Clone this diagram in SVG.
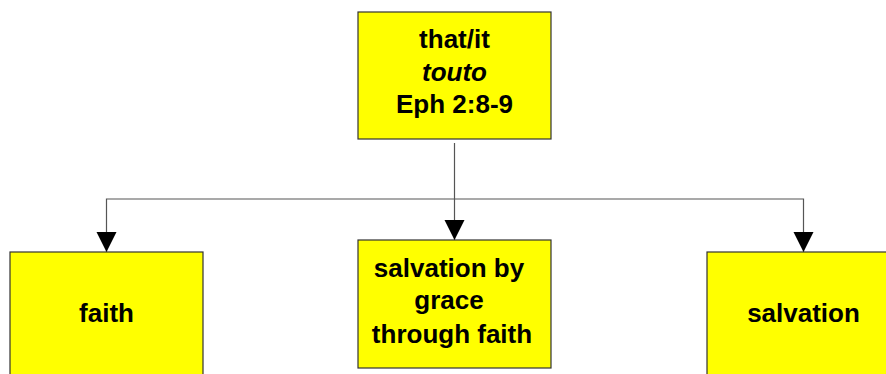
<svg xmlns="http://www.w3.org/2000/svg" width="886" height="374" viewBox="0 0 886 374">
<style>
.box{fill:#ffff00;stroke:#333333;stroke-width:1.2}
.t{font-family:"Liberation Sans",Arial,sans-serif;font-weight:bold;font-size:26px;fill:#000;text-anchor:middle}
.c{fill:none;stroke:#555555;stroke-width:1.2}
</style>
<defs>
<marker id="ah" markerUnits="userSpaceOnUse" markerWidth="22" markerHeight="22" refX="20" refY="10" orient="auto">
<path d="M0,0 L20,10 L0,20 Z" fill="#000"/>
</marker>
</defs>
<rect width="886" height="374" fill="#fff"/>
<g id="connectors">
<line class="c" x1="454.5" y1="143" x2="454.5" y2="240" marker-end="url(#ah)"/>
<path class="c" d="M454.5,199 H106.5 V252" marker-end="url(#ah)"/>
<path class="c" d="M454.5,199 H803.5 V252" marker-end="url(#ah)"/>
</g>
<g id="top">
<rect class="box" x="358" y="12" width="193" height="127"/>
<text class="t" x="454.5" y="48">that/it</text>
<text class="t" x="454.5" y="81" font-style="italic">touto</text>
<text class="t" x="454.5" y="113">Eph 2:8-9</text>
</g>
<g id="faith">
<rect class="box" x="10" y="252" width="193" height="130"/>
<text class="t" x="106.5" y="322">faith</text>
</g>
<g id="middle">
<rect class="box" x="358" y="240" width="193" height="128"/>
<text class="t" x="449" y="277">salvation by</text>
<text class="t" x="449" y="309">grace</text>
<text class="t" x="452" y="343">through faith</text>
</g>
<g id="salvation">
<rect class="box" x="707" y="252" width="193" height="130"/>
<text class="t" x="803.5" y="322">salvation</text>
</g>
</svg>
